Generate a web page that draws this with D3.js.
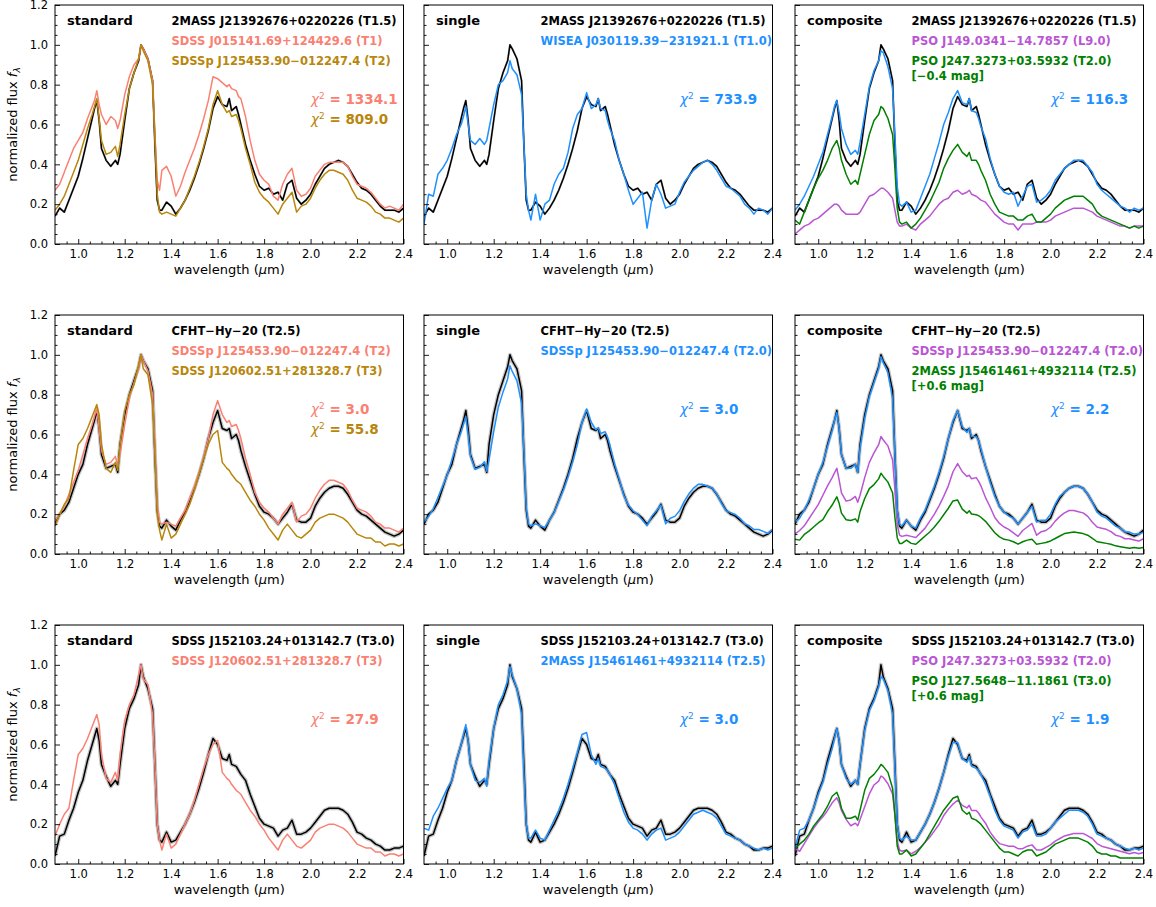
<!DOCTYPE html>
<html>
<head>
<meta charset="utf-8">
<script src="https://cdn.jsdelivr.net/npm/d3@7"></script>
<style>
  body { margin: 0; background: #fff; }
  text { font-family: "DejaVu Sans", sans-serif; }
</style>
</head>
<body>
<div id="chart"></div>
<script>
// wavelength grid (micron), shared by all spectra
var wave = [
  0.90, 0.92, 0.94, 0.96, 0.98, 1.00, 1.02, 1.04, 1.06,
  1.07, 1.08, 1.09, 1.10, 1.12, 1.14, 1.16, 1.17, 1.18,
  1.20, 1.22, 1.24, 1.26, 1.27, 1.28, 1.30, 1.32, 1.33, 1.34, 1.35, 1.36,
  1.38, 1.40, 1.42, 1.44, 1.46, 1.48, 1.50, 1.52, 1.54, 1.56, 1.58, 1.60,
  1.62, 1.64, 1.65, 1.66, 1.68, 1.69, 1.70, 1.72, 1.74, 1.76, 1.78, 1.80,
  1.82, 1.84, 1.86, 1.88, 1.90, 1.92, 1.94, 1.96, 1.98, 2.00, 2.02, 2.04,
  2.06, 2.08, 2.10, 2.12, 2.14, 2.16, 2.18, 2.20, 2.22, 2.24, 2.26, 2.28,
  2.30, 2.32, 2.34, 2.36, 2.38, 2.40
];

// target spectra (black)
var flux2139 = [
  0.14, 0.18, 0.16, 0.22, 0.28, 0.34, 0.43, 0.53, 0.63,
  0.68, 0.72, 0.62, 0.48, 0.42, 0.39, 0.42, 0.40, 0.45,
  0.62, 0.78, 0.86, 0.92, 1.00, 0.98, 0.93, 0.82, 0.50, 0.22, 0.17, 0.17,
  0.21, 0.19, 0.15, 0.18, 0.22, 0.27, 0.33, 0.40, 0.48, 0.57, 0.68, 0.74,
  0.70, 0.69, 0.73, 0.67, 0.69, 0.65, 0.60, 0.50, 0.42, 0.35, 0.29, 0.27,
  0.28, 0.25, 0.26, 0.22, 0.30, 0.32, 0.23, 0.20, 0.22, 0.25, 0.30, 0.34,
  0.38, 0.40, 0.41, 0.42, 0.41, 0.39, 0.35, 0.31, 0.28, 0.27, 0.25, 0.22,
  0.19, 0.17, 0.17, 0.17, 0.16, 0.18
];
var fluxCFHT = [
  0.15, 0.20, 0.22, 0.26, 0.33, 0.40, 0.45, 0.55, 0.63,
  0.67, 0.72, 0.63, 0.50, 0.43, 0.44, 0.45, 0.41, 0.55,
  0.70, 0.80, 0.87, 0.94, 1.00, 0.97, 0.93, 0.82, 0.50, 0.22, 0.14, 0.13,
  0.17, 0.14, 0.12, 0.17, 0.21, 0.27, 0.33, 0.40, 0.48, 0.58, 0.66, 0.72,
  0.63, 0.62, 0.63, 0.58, 0.60, 0.57, 0.52, 0.44, 0.37, 0.30, 0.24, 0.21,
  0.20, 0.18, 0.15, 0.18, 0.21, 0.25, 0.17, 0.16, 0.16, 0.18, 0.24, 0.28,
  0.31, 0.33, 0.34, 0.34, 0.33, 0.30, 0.26, 0.22, 0.20, 0.19, 0.17, 0.15,
  0.13, 0.11, 0.10, 0.09, 0.10, 0.12
];
var flux1521 = [
  0.04, 0.14, 0.15, 0.22, 0.28, 0.36, 0.42, 0.52, 0.60,
  0.64, 0.68, 0.62, 0.50, 0.44, 0.39, 0.42, 0.40, 0.50,
  0.68, 0.78, 0.83, 0.90, 1.00, 0.94, 0.88, 0.78, 0.50, 0.20, 0.12, 0.11,
  0.16, 0.11, 0.12, 0.16, 0.20, 0.25, 0.31, 0.38, 0.46, 0.55, 0.63, 0.60,
  0.53, 0.52, 0.55, 0.50, 0.49, 0.47, 0.45, 0.42, 0.35, 0.29, 0.23, 0.20,
  0.19, 0.18, 0.14, 0.17, 0.18, 0.22, 0.15, 0.15, 0.16, 0.18, 0.21, 0.24,
  0.27, 0.28, 0.28, 0.28, 0.27, 0.25, 0.21, 0.16, 0.15, 0.13, 0.12, 0.10,
  0.09, 0.07, 0.07, 0.08, 0.08, 0.09
];

// comparison spectra
var flux0151 = [
  0.27, 0.30, 0.36, 0.42, 0.48, 0.52, 0.56, 0.63, 0.69,
  0.72, 0.77, 0.70, 0.65, 0.60, 0.64, 0.62, 0.58, 0.62,
  0.75, 0.84, 0.90, 0.93, 1.00, 0.98, 0.93, 0.82, 0.55, 0.32, 0.27, 0.37,
  0.39, 0.34, 0.24, 0.29, 0.36, 0.42, 0.48, 0.55, 0.63, 0.72, 0.84, 0.83,
  0.81, 0.79, 0.80, 0.78, 0.77, 0.74, 0.73, 0.64, 0.52, 0.42, 0.35, 0.32,
  0.30, 0.24, 0.22, 0.30, 0.35, 0.38, 0.27, 0.24, 0.25, 0.28, 0.34, 0.37,
  0.40, 0.41, 0.41, 0.41, 0.41, 0.39, 0.34, 0.30, 0.29, 0.28, 0.26, 0.23,
  0.20, 0.18, 0.19, 0.18, 0.17, 0.20
];
var flux1254 = [
  0.17, 0.20, 0.24, 0.30, 0.36, 0.42, 0.50, 0.58, 0.65,
  0.69, 0.73, 0.63, 0.52, 0.45, 0.46, 0.49, 0.44, 0.50,
  0.65, 0.78, 0.86, 0.93, 1.00, 0.97, 0.92, 0.80, 0.55, 0.25, 0.16, 0.15,
  0.16, 0.15, 0.14, 0.18, 0.22, 0.28, 0.34, 0.41, 0.49, 0.58, 0.70, 0.77,
  0.70, 0.66, 0.67, 0.64, 0.65, 0.62, 0.58, 0.48, 0.40, 0.31, 0.26, 0.23,
  0.21, 0.18, 0.15, 0.20, 0.23, 0.26, 0.16, 0.19, 0.20, 0.23, 0.28, 0.32,
  0.35, 0.37, 0.37, 0.36, 0.35, 0.32, 0.27, 0.23, 0.22, 0.21, 0.19, 0.16,
  0.15, 0.13, 0.13, 0.12, 0.11, 0.13
];
var flux1206 = [
  0.14, 0.20, 0.25, 0.28, 0.42, 0.55, 0.58, 0.63, 0.69,
  0.72, 0.75, 0.70, 0.55, 0.43, 0.41, 0.46, 0.42, 0.55,
  0.72, 0.80, 0.85, 0.95, 1.00, 0.93, 0.90, 0.75, 0.50, 0.20, 0.12, 0.07,
  0.15, 0.08, 0.10, 0.15, 0.20, 0.25, 0.32, 0.40, 0.48, 0.55, 0.60, 0.62,
  0.46, 0.43, 0.42, 0.40, 0.37, 0.36, 0.35, 0.31, 0.27, 0.24, 0.20, 0.17,
  0.13, 0.10, 0.07, 0.12, 0.15, 0.12, 0.09, 0.08, 0.10, 0.12, 0.16, 0.18,
  0.19, 0.20, 0.20, 0.19, 0.18, 0.16, 0.13, 0.10, 0.09, 0.08, 0.08, 0.06,
  0.06, 0.04, 0.05, 0.05, 0.04, 0.05
];
var flux0301 = [
  0.10, 0.25, 0.24, 0.35, 0.38, 0.42, 0.48, 0.55, 0.60,
  0.64, 0.69, 0.60, 0.52, 0.50, 0.53, 0.50, 0.52, 0.58,
  0.70, 0.80, 0.82, 0.86, 0.92, 0.88, 0.85, 0.75, 0.50, 0.25, 0.17, 0.12,
  0.25, 0.12, 0.20, 0.22, 0.30, 0.35, 0.38, 0.46, 0.58, 0.65, 0.68, 0.76,
  0.68, 0.70, 0.73, 0.68, 0.67, 0.62, 0.58, 0.52, 0.42, 0.35, 0.27, 0.20,
  0.23, 0.26, 0.08, 0.22, 0.30, 0.25, 0.18, 0.19, 0.20, 0.26, 0.31, 0.34,
  0.37, 0.39, 0.41, 0.42, 0.40, 0.37, 0.33, 0.29, 0.28, 0.26, 0.24, 0.20,
  0.18, 0.15, 0.18, 0.17, 0.15, 0.18
];
var flux149 = [
  0.05, 0.07, 0.09, 0.10, 0.12, 0.13, 0.15, 0.17, 0.19,
  0.20, 0.20, 0.19, 0.17, 0.15, 0.15, 0.15, 0.15, 0.16,
  0.20, 0.24, 0.25, 0.27, 0.28, 0.28, 0.26, 0.23, 0.17, 0.11, 0.09, 0.09,
  0.10, 0.08, 0.07, 0.10, 0.12, 0.14, 0.17, 0.20, 0.22, 0.23, 0.26, 0.27,
  0.25, 0.26, 0.27, 0.25, 0.24, 0.23, 0.22, 0.21, 0.18, 0.15, 0.13, 0.11,
  0.10, 0.10, 0.07, 0.10, 0.10, 0.10, 0.11, 0.11, 0.11, 0.12, 0.14, 0.15,
  0.16, 0.17, 0.18, 0.18, 0.18, 0.17, 0.16, 0.14, 0.13, 0.12, 0.11, 0.10,
  0.09, 0.09, 0.08, 0.09, 0.09, 0.09
];
var flux247 = [
  0.12, 0.10, 0.16, 0.22, 0.28, 0.33, 0.37, 0.42, 0.48,
  0.50, 0.52, 0.48, 0.42, 0.35, 0.30, 0.32, 0.30, 0.35,
  0.45, 0.55, 0.62, 0.65, 0.69, 0.68, 0.63, 0.55, 0.38, 0.18, 0.11, 0.10,
  0.11, 0.08, 0.10, 0.13, 0.17, 0.21, 0.26, 0.31, 0.38, 0.43, 0.47, 0.50,
  0.46, 0.44, 0.46, 0.42, 0.42, 0.40, 0.37, 0.32, 0.25, 0.20, 0.16, 0.15,
  0.14, 0.14, 0.12, 0.12, 0.14, 0.15, 0.11, 0.11, 0.13, 0.15, 0.18, 0.20,
  0.22, 0.23, 0.24, 0.24, 0.24, 0.22, 0.20, 0.16, 0.14, 0.13, 0.12, 0.11,
  0.10, 0.09, 0.08, 0.09, 0.08, 0.09
];
var flux1546 = [
  0.18, 0.17, 0.24, 0.28, 0.33, 0.38, 0.42, 0.52, 0.60,
  0.65, 0.70, 0.62, 0.50, 0.42, 0.41, 0.43, 0.39, 0.52,
  0.68, 0.80, 0.85, 0.92, 0.99, 0.95, 0.88, 0.75, 0.45, 0.20, 0.13, 0.13,
  0.17, 0.13, 0.12, 0.17, 0.22, 0.27, 0.33, 0.40, 0.48, 0.56, 0.65, 0.66,
  0.55, 0.50, 0.53, 0.49, 0.48, 0.47, 0.45, 0.40, 0.33, 0.26, 0.21, 0.18,
  0.17, 0.15, 0.12, 0.15, 0.17, 0.18, 0.12, 0.13, 0.14, 0.16, 0.19, 0.22,
  0.25, 0.26, 0.27, 0.26, 0.25, 0.23, 0.19, 0.15, 0.14, 0.13, 0.12, 0.10,
  0.09, 0.08, 0.07, 0.08, 0.07, 0.08
];
var flux127 = [
  0.08, 0.10, 0.12, 0.15, 0.19, 0.22, 0.25, 0.29, 0.34,
  0.35, 0.36, 0.33, 0.28, 0.23, 0.23, 0.24, 0.22, 0.27,
  0.37, 0.43, 0.45, 0.48, 0.50, 0.49, 0.46, 0.38, 0.25, 0.09, 0.05, 0.05,
  0.07, 0.04, 0.05, 0.08, 0.11, 0.15, 0.19, 0.23, 0.27, 0.30, 0.33, 0.34,
  0.27, 0.25, 0.26, 0.23, 0.22, 0.21, 0.20, 0.17, 0.14, 0.11, 0.08, 0.06,
  0.06, 0.05, 0.04, 0.06, 0.07, 0.07, 0.04, 0.05, 0.06, 0.08, 0.10, 0.11,
  0.12, 0.13, 0.13, 0.13, 0.12, 0.11, 0.09, 0.06, 0.05, 0.05, 0.04, 0.04,
  0.03, 0.03, 0.03, 0.03, 0.03, 0.03
];

// composite fits (blue, right column)
var fluxComp1 = [
  0.17, 0.20, 0.24, 0.29, 0.34, 0.40, 0.46, 0.55, 0.64,
  0.69, 0.72, 0.66, 0.58, 0.50, 0.45, 0.47, 0.45, 0.51,
  0.65, 0.79, 0.87, 0.92, 0.97, 0.96, 0.89, 0.78, 0.55, 0.29, 0.20, 0.19,
  0.21, 0.16, 0.17, 0.23, 0.29, 0.35, 0.43, 0.51, 0.60, 0.66, 0.73, 0.77,
  0.71, 0.70, 0.73, 0.67, 0.66, 0.63, 0.59, 0.53, 0.43, 0.35, 0.29, 0.26,
  0.25, 0.26, 0.19, 0.24, 0.29, 0.30, 0.21, 0.22, 0.24, 0.27, 0.32, 0.35,
  0.38, 0.40, 0.42, 0.42, 0.42, 0.39, 0.36, 0.30, 0.27, 0.25, 0.23, 0.21,
  0.19, 0.18, 0.16, 0.18, 0.17, 0.18
];
var fluxComp2 = [
  0.16, 0.18, 0.22, 0.27, 0.33, 0.40, 0.46, 0.54, 0.62,
  0.67, 0.71, 0.63, 0.50, 0.43, 0.43, 0.45, 0.41, 0.53,
  0.68, 0.79, 0.86, 0.93, 0.99, 0.96, 0.91, 0.78, 0.50, 0.22, 0.15, 0.14,
  0.17, 0.14, 0.13, 0.18, 0.22, 0.28, 0.34, 0.41, 0.49, 0.58, 0.67, 0.72,
  0.64, 0.61, 0.63, 0.59, 0.59, 0.57, 0.53, 0.44, 0.36, 0.29, 0.24, 0.21,
  0.19, 0.18, 0.15, 0.18, 0.21, 0.24, 0.16, 0.17, 0.17, 0.20, 0.25, 0.29,
  0.31, 0.33, 0.34, 0.34, 0.33, 0.30, 0.26, 0.21, 0.19, 0.18, 0.16, 0.14,
  0.13, 0.11, 0.11, 0.10, 0.10, 0.11
];
var fluxComp3 = [
  0.08, 0.17, 0.18, 0.22, 0.28, 0.35, 0.41, 0.50, 0.58,
  0.63, 0.68, 0.62, 0.50, 0.43, 0.40, 0.42, 0.40, 0.50,
  0.67, 0.77, 0.82, 0.89, 0.94, 0.93, 0.87, 0.75, 0.48, 0.20, 0.13, 0.12,
  0.14, 0.12, 0.12, 0.16, 0.20, 0.25, 0.31, 0.38, 0.46, 0.54, 0.61, 0.61,
  0.53, 0.51, 0.54, 0.49, 0.48, 0.47, 0.45, 0.40, 0.34, 0.27, 0.22, 0.19,
  0.18, 0.17, 0.13, 0.16, 0.17, 0.20, 0.14, 0.14, 0.15, 0.18, 0.21, 0.23,
  0.25, 0.27, 0.27, 0.27, 0.26, 0.24, 0.20, 0.15, 0.14, 0.13, 0.12, 0.10,
  0.09, 0.08, 0.07, 0.08, 0.07, 0.08
];

// colours
var SALMON = "#fa8072", GOLD = "#b8860b", BLUE = "#1e90ff", PURPLE = "#ba55d3", GREEN = "#008000";

// Layout
var svgWidth = 1156, svgHeight = 907;
var panelLeft = [55, 424, 795];
var rowTop = [5, 315, 625];
var panelW = 348.5, panelH = 239;

var svg = d3.select("#chart").append("svg")
    .attr("width", svgWidth)
    .attr("height", svgHeight);

var x = d3.scaleLinear().domain([0.9, 2.4]).range([0, panelW]);
var y = d3.scaleLinear().domain([0, 1.2]).range([panelH, 0]);

var line = d3.line()
    .x(d => x(d[0]))
    .y(d => y(d[1]));

function spectrum(flux, scale) {
    return wave.map((w, i) => [w, flux[i] * scale]);
}

// one entry per row: the target and its three panels
var rows = [
    {
        target: flux2139, band: 2.2,
        name: "2MASS J21392676+0220226 (T1.5)",
        panels: [
            { kind: "standard",
              lines: [[flux0151, 1, SALMON], [flux1254, 1, GOLD]],
              names: [["SDSS J015141.69+124429.6 (T1)", SALMON], ["SDSSp J125453.90\u2212012247.4 (T2)", GOLD]],
              chi: [["1334.1", SALMON], ["809.0", GOLD]] },
            { kind: "single",
              lines: [[flux0301, 1, BLUE]],
              names: [["WISEA J030119.39\u2212231921.1 (T1.0)", BLUE]],
              chi: [["733.9", BLUE]] },
            { kind: "composite",
              lines: [[flux149, 1, PURPLE], [flux247, 1, GREEN], [fluxComp1, 1, BLUE]],
              names: [["PSO J149.0341\u221214.7857 (L9.0)", PURPLE], ["PSO J247.3273+03.5932 (T2.0)", GREEN]],
              mag: ["[\u22120.4 mag]", GREEN],
              chi: [["116.3", BLUE]] }
        ]
    },
    {
        target: fluxCFHT, band: 4,
        name: "CFHT\u2212Hy\u221220 (T2.5)",
        panels: [
            { kind: "standard",
              lines: [[flux1254, 1, SALMON], [flux1206, 1, GOLD]],
              names: [["SDSSp J125453.90\u2212012247.4 (T2)", SALMON], ["SDSS J120602.51+281328.7 (T3)", GOLD]],
              chi: [["3.0", SALMON], ["55.8", GOLD]] },
            { kind: "single",
              lines: [[flux1254, 0.945, BLUE]],
              names: [["SDSSp J125453.90\u2212012247.4 (T2.0)", BLUE]],
              chi: [["3.0", BLUE]] },
            { kind: "composite",
              lines: [[flux1254, 0.59, PURPLE], [flux1546, 0.41, GREEN], [fluxComp2, 1, BLUE]],
              names: [["SDSSp J125453.90\u2212012247.4 (T2.0)", PURPLE], ["2MASS J15461461+4932114 (T2.5)", GREEN]],
              mag: ["[+0.6 mag]", GREEN],
              chi: [["2.2", BLUE]] }
        ]
    },
    {
        target: flux1521, band: 4,
        name: "SDSS J152103.24+013142.7 (T3.0)",
        panels: [
            { kind: "standard",
              lines: [[flux1206, 1, SALMON]],
              names: [["SDSS J120602.51+281328.7 (T3)", SALMON]],
              chi: [["27.9", SALMON]] },
            { kind: "single",
              lines: [[flux1546, 1, BLUE]],
              names: [["2MASS J15461461+4932114 (T2.5)", BLUE]],
              chi: [["3.0", BLUE]] },
            { kind: "composite",
              lines: [[flux247, 0.64, PURPLE], [flux127, 1, GREEN], [fluxComp3, 1, BLUE]],
              names: [["PSO J247.3273+03.5932 (T2.0)", PURPLE], ["PSO J127.5648\u221211.1861 (T3.0)", GREEN]],
              mag: ["[+0.6 mag]", GREEN],
              chi: [["1.9", BLUE]] }
        ]
    }
];

var xMajor = [1.0, 1.2, 1.4, 1.6, 1.8, 2.0, 2.2, 2.4];
var xMinor = d3.range(0.95, 2.4, 0.05).filter(v => Math.abs(v * 5 - Math.round(v * 5)) > 0.01);
var yMajor = [0, 0.2, 0.4, 0.6, 0.8, 1.0, 1.2];
var yMinor = d3.range(0.05, 1.2, 0.05).filter(v => Math.abs(v * 5 - Math.round(v * 5)) > 0.01);

var clipId = 0;

rows.forEach(function(row, r) {
    row.panels.forEach(function(p, c) {
        var g = svg.append("g")
            .attr("transform", `translate(${panelLeft[c]}, ${rowTop[r]})`);

        clipId += 1;
        g.append("clipPath").attr("id", "clip" + clipId)
            .append("rect").attr("width", panelW).attr("height", panelH);

        var plot = g.append("g").attr("clip-path", `url(#clip${clipId})`);

        // target with its grey error band
        var tgt = spectrum(row.target, 1);
        plot.append("path").datum(tgt)
            .attr("d", line).attr("fill", "none")
            .attr("stroke", "#c4c4c4").attr("stroke-width", row.band)
            .attr("stroke-linejoin", "round");
        plot.append("path").datum(tgt)
            .attr("d", line).attr("fill", "none")
            .attr("stroke", "#000").attr("stroke-width", 1.5)
            .attr("stroke-linejoin", "round");

        p.lines.forEach(function(l) {
            plot.append("path").datum(spectrum(l[0], l[1]))
                .attr("d", line).attr("fill", "none")
                .attr("stroke", l[2]).attr("stroke-width", 1.5)
                .attr("stroke-linejoin", "round");
        });

        // axes, ticks pointing inwards
        var bottom = g.append("g").attr("transform", `translate(0, ${panelH})`);
        bottom.call(d3.axisBottom(x).tickValues(xMajor).tickSize(-5).tickSizeOuter(0)
            .tickPadding(6).tickFormat(d3.format(".1f")));
        bottom.append("g").call(d3.axisBottom(x).tickValues(xMinor).tickSize(-2.5).tickSizeOuter(0).tickFormat(""));

        var left = g.append("g");
        left.call(d3.axisLeft(y).tickValues(yMajor).tickSize(-5).tickSizeOuter(0)
            .tickPadding(7).tickFormat(c === 0 ? d3.format(".1f") : ""));
        left.append("g").call(d3.axisLeft(y).tickValues(yMinor).tickSize(-2.5).tickSizeOuter(0).tickFormat(""));

        g.selectAll(".domain").remove();
        g.selectAll(".tick line").attr("stroke", "#000").attr("stroke-width", 0.9);
        g.selectAll(".tick text").attr("fill", "#000").style("font-size", "11.5px")
            .style("font-family", "'DejaVu Sans', sans-serif");

        g.append("rect")
            .attr("width", panelW).attr("height", panelH)
            .attr("fill", "none").attr("stroke", "#000").attr("stroke-width", 1);

        // x label
        var xl = g.append("text")
            .attr("x", panelW / 2).attr("y", panelH + 30)
            .attr("text-anchor", "middle").style("font-size", "13px");
        xl.append("tspan").text("wavelength (");
        xl.append("tspan").style("font-style", "italic").text("\u03bc");
        xl.append("tspan").text("m)");

        // y label
        if (c === 0) {
            var yl = g.append("text")
                .attr("transform", `translate(${-38}, ${panelH / 2}) rotate(-90)`)
                .attr("text-anchor", "middle").style("font-size", "13px");
            yl.append("tspan").text("normalized flux ");
            yl.append("tspan").style("font-style", "italic").text("f");
            yl.append("tspan").attr("dy", 3).style("font-size", "9px").style("font-style", "italic").text("\u03bb");
        }

        // annotations
        g.append("text")
            .attr("x", 12).attr("y", 20)
            .style("font-size", "13px").style("font-weight", "bold")
            .text(p.kind);

        var names = [[row.name, "#000"]].concat(p.names);
        names.forEach(function(n, i) {
            g.append("text")
                .attr("x", 116.5).attr("y", 20 + i * 20)
                .attr("fill", n[1])
                .style("font-size", "11.5px").style("font-weight", "bold")
                .text(n[0]);
        });
        if (p.mag) {
            g.append("text")
                .attr("x", 116.5).attr("y", 75)
                .attr("fill", p.mag[1])
                .style("font-size", "11.5px").style("font-weight", "bold")
                .text(p.mag[0]);
        }

        p.chi.forEach(function(ch, i) {
            var t = g.append("text")
                .attr("x", 256).attr("y", 99 + i * 20)
                .attr("fill", ch[1])
                .style("font-size", "13.5px")
                .style("white-space", "pre");
            t.append("tspan").style("font-style", "italic").text("\u03c7");
            t.append("tspan").attr("dy", -5).style("font-size", "9px").text("2");
            t.append("tspan").attr("dy", 5).style("font-weight", "bold").text(" = " + ch[0]);
        });
    });
});
</script>
</body>
</html>
